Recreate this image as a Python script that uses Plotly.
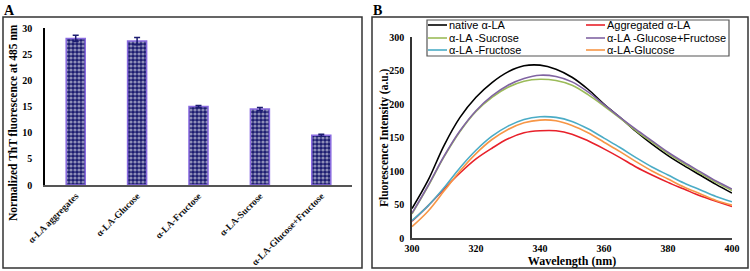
import plotly.graph_objects as go

# ---------------- Panel A data ----------------
bar_categories = ["α-LA aggregates", "α-LA-Glucose", "α-LA-Fructose", "α-LA-Sucrose", "α-LA-Glucose+Fructose"]
bar_values = [28.0, 27.5, 15.0, 14.5, 9.5]
bar_errors = [0.6, 0.7, 0.2, 0.3, 0.2]
bar_yticks = [0, 5, 10, 15, 20, 25, 30]

# ---------------- Panel B data ----------------
wavelength = [300, 305, 310, 315, 320, 325, 330, 335, 340, 345, 350,
              355, 360, 365, 370, 375, 380, 385, 390, 395, 400]
native = [44, 86, 138, 180, 210, 232, 248, 257, 258, 252, 240,
          222, 200, 180, 159, 140, 123, 108, 94, 80, 67]
aggregated = [25, 48, 73, 97, 118, 134, 148, 157, 160, 160, 155,
              145, 133, 120, 106, 94, 83, 73, 63, 55, 47]
sucrose = [36, 77, 121, 159, 189, 210, 225, 234, 237, 235, 228,
           214, 197, 179, 160, 143, 126, 111, 97, 83, 71]
glu_fru = [37, 78, 122, 160, 190, 212, 228, 238, 243, 241, 233,
           218, 199, 180, 162, 145, 128, 113, 99, 85, 73]
fructose = [26, 48, 75, 105, 131, 152, 167, 177, 181, 180, 174,
            163, 149, 135, 120, 106, 94, 82, 72, 62, 54]
glucose = [17, 40, 70, 100, 126, 147, 162, 172, 176, 175, 168,
           157, 143, 129, 114, 100, 88, 76, 66, 56, 49]

series_names = ["native α-LA", "Aggregated α-LA", "α-LA -Sucrose",
                "α-LA -Glucose+Fructose", "α-LA -Fructose", "α-LA-Glucose"]
series_values = [native, aggregated, sucrose, glu_fru, fructose, glucose]
series_colors = ["#000000", "#e8202a", "#9bbb59", "#8064a2", "#4bacc6", "#f79646"]

W, H = 750, 271


def px(x):
    return x / W


def py(y):
    return 1 - y / H


SERIF = "Liberation Serif, Times New Roman, serif"
SANS = "Liberation Sans, Arial, sans-serif"

fig = go.Figure()

fig.add_trace(go.Bar(
    x=bar_categories, y=bar_values,
    xaxis="x", yaxis="y",
    marker=dict(
        color="#1c1c70",
        line=dict(color="#8a6be0", width=1.5),
        pattern=dict(shape=".", fgcolor="#ffffff", bgcolor="#1c1c70",
                     size=4, solidity=0.5, fillmode="overlay"),
    ),
    error_y=dict(type="data", array=bar_errors, color="#1c1c70",
                 thickness=1.5, width=3),
    showlegend=False,
))

for name, vals, col in zip(series_names, series_values, series_colors):
    fig.add_trace(go.Scatter(
        x=wavelength, y=vals, mode="lines", name=name,
        line=dict(color=col, width=1.6, shape="spline"),
        xaxis="x2", yaxis="y2", showlegend=False,
    ))

shapes = [
    dict(type="rect", xref="paper", yref="paper", x0=px(3), x1=px(362),
         y0=py(268), y1=py(17), line=dict(color="#333333", width=1.5)),
    dict(type="rect", xref="paper", yref="paper", x0=px(372), x1=px(748),
         y0=py(268), y1=py(17), line=dict(color="#333333", width=1.5)),
    # legend frame
    dict(type="rect", xref="paper", yref="paper", x0=px(427), x1=px(729),
         y0=py(56), y1=py(20), line=dict(color="#555555", width=1.2),
         fillcolor="rgba(255,255,255,0)"),
]

annotations = [
    dict(text="<b>A</b>", x=px(2), y=py(1), xref="paper", yref="paper",
         xanchor="left", yanchor="top", showarrow=False,
         font=dict(family=SERIF, size=14, color="#000")),
    dict(text="<b>B</b>", x=px(371), y=py(1), xref="paper", yref="paper",
         xanchor="left", yanchor="top", showarrow=False,
         font=dict(family=SERIF, size=14, color="#000")),
    dict(text="<b>Normalized ThT fluorescence at 485 nm</b>", x=px(13), y=py(123),
         xref="paper", yref="paper", textangle=-90, showarrow=False,
         xanchor="center", yanchor="middle",
         font=dict(family=SERIF, size=11.5, color="#000")),
    dict(text="<b>Fluorescence Intensity (a.u.)</b>", x=px(384), y=py(138),
         xref="paper", yref="paper", textangle=-90, showarrow=False,
         xanchor="center", yanchor="middle",
         font=dict(family=SERIF, size=11.5, color="#000")),
]

# manual legend (two columns, three rows)
col_x = [428, 586]
row_y = [25, 38, 50]
for i, (name, col) in enumerate(zip(series_names, series_colors)):
    c = i % 2
    r = i // 2
    x0 = col_x[c]
    yy = row_y[r]
    shapes.append(dict(type="line", xref="paper", yref="paper",
                       x0=px(x0), x1=px(x0 + 19), y0=py(yy), y1=py(yy),
                       line=dict(color=col, width=1.6)))
    annotations.append(dict(text=name, x=px(x0 + 19), y=py(yy), xref="paper",
                            yref="paper", xanchor="left", yanchor="middle",
                            showarrow=False,
                            font=dict(family=SANS, size=11, color="#000")))

fig.update_layout(
    width=W, height=H, autosize=False,
    margin=dict(l=0, r=0, t=0, b=0, autoexpand=False),
    paper_bgcolor="white", plot_bgcolor="white",
    bargap=0.69,
    xaxis=dict(domain=[px(45), px(352)], anchor="y", showgrid=False,
               automargin=False,
               showline=True, linecolor="#555555", linewidth=1.5,
               tickangle=-45, ticks="",
               tickfont=dict(family=SERIF, size=9.5, color="#111", weight="bold")),
    yaxis=dict(domain=[py(185), py(28)], anchor="x", range=[0, 30],
               automargin=False,
               tickvals=bar_yticks, showgrid=False, showline=True,
               linecolor="#000", linewidth=1.5, ticks="",
               ticklabelstandoff=9, zeroline=False,
               tickfont=dict(family=SERIF, size=10, color="#000", weight="bold")),
    xaxis2=dict(domain=[px(412), px(732)], anchor="y2", range=[300, 400],
                automargin=False,
                tickvals=[300, 320, 340, 360, 380, 400], showgrid=False,
                showline=True, linecolor="#444444", linewidth=1.5, ticks="",
                zeroline=False,
                title=dict(text="<b>Wavelength (nm)</b>", standoff=2,
                           font=dict(family=SERIF, size=12, color="#000")),
                tickfont=dict(family=SERIF, size=10, color="#000", weight="bold")),
    yaxis2=dict(domain=[py(238), py(37)], anchor="x2", range=[0, 300],
                automargin=False,
                tickvals=[0, 50, 100, 150, 200, 250, 300], showgrid=False,
                showline=True, linecolor="#333333", linewidth=1.5, ticks="",
                zeroline=False, ticklabelstandoff=4,
                tickfont=dict(family=SERIF, size=10, color="#000", weight="bold")),
    shapes=shapes,
    annotations=annotations,
)

fig.write_html(
    "out.html",
    config={"displayModeBar": False},
    post_script="document.body.style.margin='0';document.body.style.padding='0';"
                "document.body.style.overflow='hidden';",
)
